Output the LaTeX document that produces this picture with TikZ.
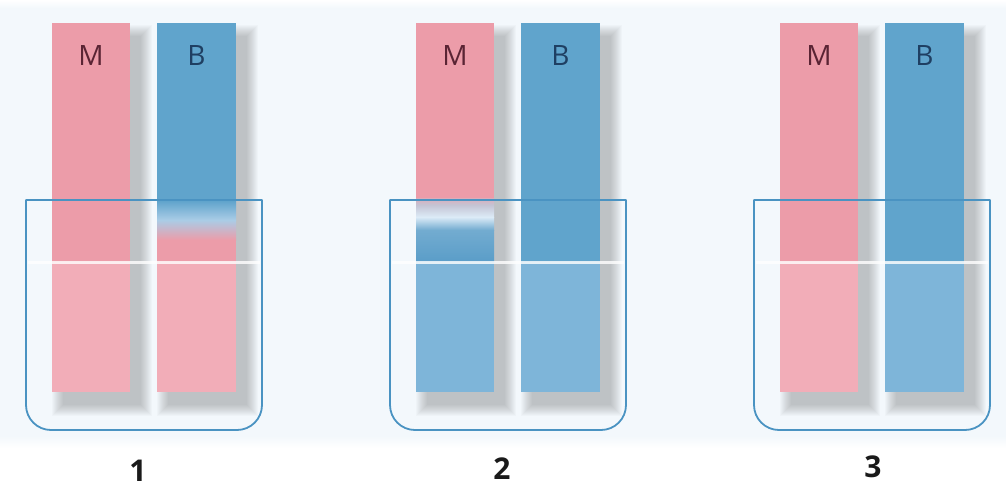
\documentclass[tikz,border=0pt]{standalone}
\usepackage{fontspec}
\setmainfont{Open Sans}
\definecolor{bgblue}{HTML}{F3F8FC}
\definecolor{pinkA}{HTML}{EC9CA9}
\definecolor{pinkW}{HTML}{F2ADB8}
\definecolor{blueA}{HTML}{60A4CC}
\definecolor{blueD}{HTML}{5A9DC8}
\definecolor{blueW}{HTML}{7EB5D9}
\definecolor{paleblue}{HTML}{AACCE6}
\definecolor{lavgray}{HTML}{C4C4D4}
\definecolor{iceblue}{HTML}{DCEBF7}
\definecolor{beakerline}{HTML}{4A93C2}
\definecolor{mtext}{HTML}{5A2434}
\definecolor{btext}{HTML}{1F3F62}
\definecolor{numtext}{HTML}{1A1A1A}
% soft drop shadow behind a strip: corners (x1,y1) and (x2,y2)
\newcommand\stripshadow[4]{%
  \foreach \r in {0,...,11}
    \fill[black!80, opacity=0.022]
      ({#1+11-\r},{#2+13-\r}) rectangle ({#3+11+\r},{#4+13+\r});}
\tikzset{
  beaker/.style={draw=beakerline, line width=1.8pt},
  waterline/.style={draw=white, line width=3pt, opacity=0.8},
  mlabel/.style={text=mtext, font=\fontsize{28}{28}\selectfont, inner sep=0pt},
  blabel/.style={text=btext, font=\fontsize{28}{28}\selectfont, inner sep=0pt},
  numlabel/.style={text=numtext, font=\fontsize{30}{30}\selectfont\bfseries, inner sep=0pt}
}
\begin{document}
\begin{tikzpicture}[x=1pt,y=-1pt]
\useasboundingbox (0,0) rectangle (1006,491);
\fill[white] (0,0) rectangle (1006,491);
\shade[top color=white, bottom color=bgblue] (0,0) rectangle (1006,8);
\fill[bgblue] (0,8) rectangle (1006,436);
\shade[top color=bgblue, bottom color=white] (0,436) rectangle (1006,448);

% shadows of all six strips
\foreach \dx in {0,364,728}{
  \stripshadow{52+\dx}{23}{130+\dx}{392}
  \stripshadow{157+\dx}{23}{236+\dx}{392}
}

% ---- beaker 1 ----
% M strip: pink
\fill[pinkA] (52,23) rectangle (130,262);
\fill[pinkW] (52,262) rectangle (130,392);
% B strip: blue turning pink in the liquid
\fill[blueA] (157,23) rectangle (236,201);
\shade[top color=blueA, bottom color=paleblue] (157,201) rectangle (236,220);
\shade[top color=paleblue, bottom color=pinkA] (157,220) rectangle (236,240);
\fill[pinkA] (157,240) rectangle (236,262);
\fill[pinkW] (157,262) rectangle (236,392);

% ---- beaker 2 ----
\begin{scope}[xshift=364pt]
% M strip: pink turning blue in the liquid
\fill[pinkA] (52,23) rectangle (130,198);
\shade[top color=pinkA!60!lavgray, bottom color=lavgray] (52,198) rectangle (130,205);
\shade[top color=lavgray, bottom color=iceblue] (52,205) rectangle (130,217);
\shade[top color=iceblue, bottom color=blueD!85!white] (52,217) rectangle (130,230);
\shade[top color=blueD!85!white, bottom color=blueD] (52,230) rectangle (130,262);
\fill[blueW] (52,262) rectangle (130,392);
% B strip: blue
\fill[blueA] (157,23) rectangle (236,262);
\fill[blueW] (157,262) rectangle (236,392);
\end{scope}

% ---- beaker 3 ----
\begin{scope}[xshift=728pt]
\fill[pinkA] (52,23) rectangle (130,262);
\fill[pinkW] (52,262) rectangle (130,392);
\fill[blueA] (157,23) rectangle (236,262);
\fill[blueW] (157,262) rectangle (236,392);
\end{scope}

% liquid surfaces and beaker outlines
\foreach \dx in {0,364,728}{
  \draw[waterline] (28+\dx,262) -- (260+\dx,262);
  \draw[beaker, rounded corners=25pt]
    (26+\dx,200) -- (26+\dx,430) -- (262+\dx,430) -- (262+\dx,200);
  \draw[beaker, line cap=round] (26+\dx,200) -- (262+\dx,200);
}

% strip letters
\node[mlabel] (m1) at (91,56) {M};
\node[blabel] (b1) at (196.5,56) {B};
\node[mlabel] (m2) at (455,56) {M};
\node[blabel] (b2) at (560.5,56) {B};
\node[mlabel] (m3) at (819,56) {M};
\node[blabel] (b3) at (924.5,56) {B};

% beaker numbers
\node[numlabel] (n1) at (138,471) {1};
\node[numlabel] (n2) at (502,469) {2};
\node[numlabel] (n3) at (873,467) {3};
\end{tikzpicture}
\end{document}
